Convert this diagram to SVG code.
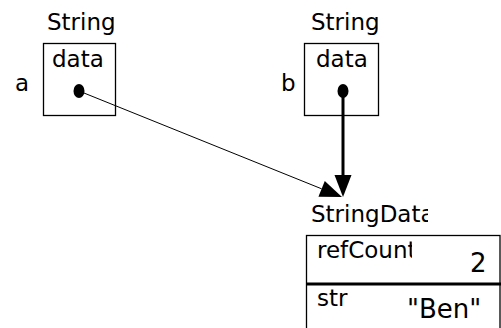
<svg xmlns="http://www.w3.org/2000/svg" width="501" height="328" viewBox="0 0 501 328">
  <style>
    text { font-family: "DejaVu Sans", "Liberation Sans", sans-serif; fill: #000; }
    .lbl { font-size: 23px; }
    .val { font-size: 26px; }
    .box { fill: #fff; stroke: #000; stroke-width: 1.3; }
    .dot { fill: #000; }
  </style>
  <defs>
    <marker id="arrow" markerUnits="userSpaceOnUse" markerWidth="24" markerHeight="20" refX="0" refY="8.5" orient="auto" overflow="visible">
      <path d="M0,0 L22,8.5 L0,17 z" fill="#000"/>
    </marker>
    <clipPath id="clipTitle"><rect x="300" y="190" width="128" height="40"/></clipPath>
    <clipPath id="clipRef"><rect x="300" y="236" width="112" height="40"/></clipPath>
  </defs>

  <g id="string-a">
    <text class="lbl" x="47" y="30">String</text>
    <rect class="box" x="43.5" y="43.5" width="72" height="72"/>
    <text class="lbl" x="52" y="67">data</text>
    <text class="lbl" x="15" y="91">a</text>
    <ellipse class="dot" cx="79" cy="91" rx="5.5" ry="7"/>
  </g>

  <g id="string-b">
    <text class="lbl" x="311" y="30">String</text>
    <rect class="box" x="304.5" y="43.5" width="74" height="72"/>
    <text class="lbl" x="316" y="67">data</text>
    <text class="lbl" x="281" y="91">b</text>
    <ellipse class="dot" cx="343" cy="91" rx="5.5" ry="7"/>
  </g>

  <g id="string-data">
    <text class="lbl" x="311" y="222" clip-path="url(#clipTitle)">StringData</text>
    <rect class="box" x="306.5" y="235.5" width="193.5" height="110"/>
    <line x1="306" y1="284" x2="501" y2="284" stroke="#000" stroke-width="3"/>
    <text class="lbl" x="317" y="258" clip-path="url(#clipRef)">refCount</text>
    <text class="val" x="470" y="272">2</text>
    <text class="lbl" x="317" y="306">str</text>
    <text class="val" x="407" y="318">"Ben"</text>
  </g>

  <g id="connectors">
    <line x1="79" y1="91" x2="321.6" y2="188.8" stroke="#000" stroke-width="1" marker-end="url(#arrow)"/>
    <line x1="343" y1="91" x2="343" y2="175" stroke="#000" stroke-width="3" marker-end="url(#arrow)"/>
  </g>
</svg>
